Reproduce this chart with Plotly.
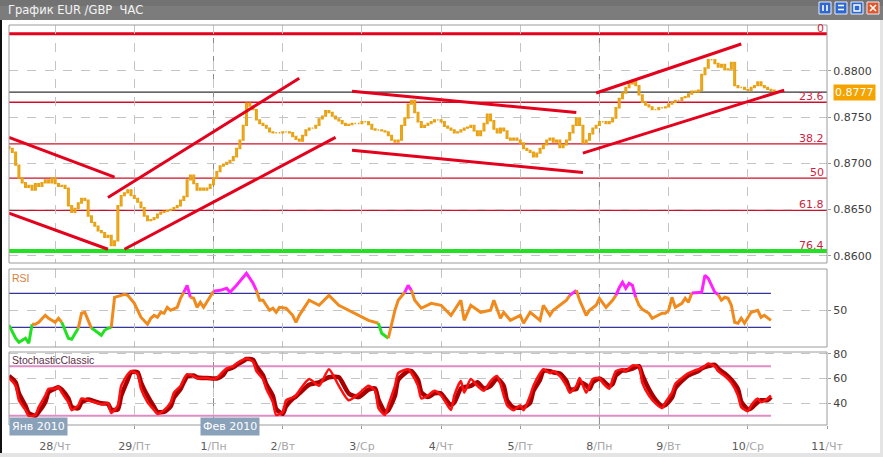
import plotly.graph_objects as go

# ---------------- data ----------------
day_ticks = [14, 38, 62, 83, 107, 131, 155, 179, 200, 224, 248]
day_nums = ["28", "29", "1", "2", "3", "4", "5", "8", "9", "10", "11"]
day_names = ["Чт", "Пт", "Пн", "Вт", "Ср", "Чт", "Пт", "Пн", "Вт", "Ср", "Чт"]
week_start_bars = [62, 179]
month_labels = ["Янв 2010", "Фев 2010"]
month_start_bars = [0, 58]

first_open = 0.8718
close = [
    0.8716, 0.8712, 0.8698, 0.8684, 0.8679, 0.8674, 0.8676, 0.8671, 0.8678, 0.8675,
    0.8679, 0.8682, 0.8679, 0.8684, 0.8678, 0.8675, 0.8676, 0.8673, 0.8654, 0.8647,
    0.8651, 0.8657, 0.8662, 0.8660, 0.8643, 0.8636, 0.8632, 0.8627, 0.8625, 0.8620,
    0.8622, 0.8611, 0.8616, 0.8654, 0.8665, 0.8668, 0.8671, 0.8665, 0.8662, 0.8658,
    0.8652, 0.8643, 0.8638, 0.8639, 0.8641, 0.8645, 0.8647, 0.8648, 0.8649, 0.8650,
    0.8652, 0.8654, 0.8660, 0.8664, 0.8682, 0.8687, 0.8678, 0.8671, 0.8673, 0.8671,
    0.8673, 0.8677, 0.8684, 0.8691, 0.8697, 0.8699, 0.8701, 0.8703, 0.8707, 0.8716,
    0.8725, 0.8741, 0.8765, 0.8762, 0.8758, 0.8747, 0.8743, 0.8741, 0.8738, 0.8734,
    0.8733, 0.8733, 0.8733, 0.8734, 0.8734, 0.8733, 0.8729, 0.8726, 0.8724, 0.8730,
    0.8736, 0.8738, 0.8738, 0.8741, 0.8748, 0.8751, 0.8757, 0.8755, 0.8751, 0.8748,
    0.8746, 0.8743, 0.8741, 0.8742, 0.8743, 0.8743, 0.8743, 0.8745, 0.8745, 0.8742,
    0.8737, 0.8736, 0.8736, 0.8735, 0.8734, 0.8730, 0.8725, 0.8723, 0.8725, 0.8741,
    0.8749, 0.8764, 0.8768, 0.8755, 0.8745, 0.8739, 0.8741, 0.8743, 0.8745, 0.8747,
    0.8747, 0.8745, 0.8740, 0.8738, 0.8736, 0.8733, 0.8734, 0.8736, 0.8738, 0.8739,
    0.8741, 0.8735, 0.8730, 0.8735, 0.8743, 0.8753, 0.8746, 0.8737, 0.8733, 0.8738,
    0.8735, 0.8727, 0.8725, 0.8727, 0.8725, 0.8722, 0.8716, 0.8714, 0.8712, 0.8707,
    0.8711, 0.8716, 0.8720, 0.8725, 0.8727, 0.8723, 0.8725, 0.8717, 0.8720, 0.8725,
    0.8733, 0.8741, 0.8749, 0.8741, 0.8722, 0.8725, 0.8732, 0.8738, 0.8741, 0.8745,
    0.8745, 0.8743, 0.8745, 0.8749, 0.8760, 0.8770, 0.8776, 0.8782, 0.8786, 0.8790,
    0.8784, 0.8774, 0.8766, 0.8763, 0.8761, 0.8758, 0.8758, 0.8760, 0.8760, 0.8761,
    0.8764, 0.8766, 0.8768, 0.8768, 0.8771, 0.8772, 0.8775, 0.8778, 0.8777, 0.8779,
    0.8796, 0.8803, 0.8812, 0.8812, 0.8808, 0.8804, 0.8807, 0.8801, 0.8802, 0.8809,
    0.8784, 0.8782, 0.8782, 0.8780, 0.8779, 0.8782, 0.8784, 0.8788, 0.8784, 0.8782,
    0.8780, 0.8779, 0.8777,
]
price_ticks = [0.8600, 0.8650, 0.8700, 0.8750, 0.8800]
last_price = 0.8777

fib_labels = ["0", "23.6", "38.2", "50", "61.8", "76.4"]
fib_prices = [0.8840, 0.8766, 0.8721, 0.8684, 0.8649, 0.8605]

trend_x0 = [0, 0, 30, 35, 104, 104, 178, 174]
trend_y0 = [0.8728, 0.8646, 0.8663, 0.8607, 0.8778, 0.8714, 0.8776, 0.8711]
trend_x1 = [32, 30, 88, 99, 172, 174, 222, 235]
trend_y1 = [0.8685, 0.8607, 0.8792, 0.8728, 0.8755, 0.8690, 0.8829, 0.8779]

rsi_bar = [
    0, 2, 3, 4, 5, 6, 7, 8, 9, 11,
    12, 14, 15, 16, 17, 18, 19, 21, 22, 23,
    24, 25, 26, 28, 29, 30, 31, 32, 34, 35,
    36, 38, 40, 42, 43, 44, 45, 46, 47, 48,
    49, 51, 52, 53, 54, 55, 56, 57, 58, 59,
    60, 62, 64, 66, 67, 69, 72, 74, 75, 76,
    77, 79, 80, 81, 82, 84, 86, 87, 88, 91,
    94, 97, 100, 103, 106, 109, 112, 113, 115, 117,
    118, 120, 121, 122, 123, 125, 128, 131, 134, 137,
    138, 140, 143, 146, 147, 149, 150, 152, 155, 156,
    158, 161, 162, 164, 165, 167, 169, 170, 172, 173,
    175, 176, 178, 179, 181, 183, 184, 185, 186, 187,
    188, 189, 190, 191, 192, 194, 195, 197, 198, 199,
    200, 201, 202, 204, 205, 206, 207, 208, 210, 211,
    212, 214, 215, 216, 217, 218, 219, 220, 221, 222,
    223, 224, 225, 227, 228, 229, 230, 231,
]
rsi_val = [
    32.4, 17.1, 12.4, 14.7, 17.1, 11.2, 33.5, 33.5, 35.9, 44.1,
    40.6, 35.9, 40.6, 35.9, 26.5, 17.1, 15.9, 28.8, 46.5, 47.6,
    38.2, 28.8, 26.5, 20.6, 26.5, 28.8, 30.0, 65.3, 67.6, 68.8,
    67.6, 58.2, 41.8, 33.5, 40.6, 44.1, 41.8, 47.6, 46.5, 53.5,
    50.0, 53.5, 64.1, 71.2, 79.4, 65.3, 64.1, 53.5, 59.4, 53.5,
    59.4, 72.4, 73.5, 75.9, 71.2, 79.4, 93.5, 81.8, 73.5, 61.8,
    61.8, 50.0, 52.4, 47.6, 53.5, 52.4, 44.1, 35.9, 44.1, 61.8,
    55.9, 67.6, 55.9, 50.0, 44.1, 38.2, 34.7, 22.9, 17.1, 50.0,
    61.8, 71.2, 79.4, 73.5, 61.8, 52.4, 58.2, 55.9, 44.1, 61.8,
    38.2, 55.9, 47.6, 50.0, 61.8, 40.6, 47.6, 38.2, 44.1, 34.7,
    47.6, 38.2, 55.9, 44.1, 50.0, 55.9, 61.8, 67.6, 73.5, 61.8,
    44.1, 50.0, 55.9, 64.1, 53.5, 61.8, 67.6, 76.5, 82.9, 75.9,
    81.8, 79.4, 65.3, 55.9, 51.2, 46.5, 40.6, 44.1, 46.5, 46.5,
    50.0, 65.3, 53.5, 58.2, 64.1, 59.4, 70.5, 70.5, 71.2, 91.2,
    87.6, 71.2, 68.5, 61.8, 65.3, 64.1, 55.9, 35.9, 34.7, 40.6,
    34.7, 41.8, 47.6, 50.0, 41.8, 44.1, 40.6, 38.2,
]
rsi_levels = [70, 30]
rsi_low_zone = 33
rsi_high_zone = 69

stoch_bar = [
    0, 2, 3, 5, 6, 8, 9, 11, 12, 14,
    15, 16, 18, 19, 21, 22, 24, 26, 28, 30,
    31, 33, 34, 36, 37, 39, 40, 42, 44, 45,
    47, 49, 50, 52, 53, 54, 56, 57, 59, 60,
    62, 63, 65, 66, 68, 69, 71, 72, 74, 75,
    77, 78, 80, 81, 83, 84, 86, 87, 88, 91,
    94, 97, 100, 103, 106, 109, 111, 112, 114, 115,
    117, 118, 121, 122, 124, 125, 127, 129, 131, 132,
    134, 135, 137, 138, 140, 142, 144, 146, 148, 150,
    151, 153, 155, 156, 158, 159, 161, 162, 164, 165,
    167, 169, 170, 172, 173, 175, 176, 177, 179, 180,
    182, 183, 184, 186, 187, 189, 191, 192, 194, 196,
    198, 199, 201, 202, 204, 206, 209, 210, 212, 214,
    215, 217, 219, 221, 222, 224, 225, 227, 228, 230,
    231,
]
stoch_k = [
    60.4, 54.1, 42.4, 34.5, 29.8, 30.6, 36.9, 46.3, 51.8, 51.8,
    53.3, 48.6, 40.8, 34.5, 38.4, 43.9, 42.4, 40.8, 39.2, 40.0,
    32.2, 38.4, 54.1, 63.5, 65.9, 63.5, 51.8, 40.8, 34.5, 31.4,
    34.5, 40.8, 48.6, 54.1, 59.6, 63.5, 62.0, 60.4, 60.4, 60.4,
    59.6, 60.4, 65.9, 68.2, 69.8, 72.2, 75.3, 76.1, 73.7, 65.9,
    59.6, 51.8, 40.8, 30.6, 32.9, 42.4, 44.7, 46.3, 50.2, 59.6,
    54.1, 67.5, 54.1, 42.4, 47.8, 54.1, 50.2, 36.1, 30.6, 38.4,
    54.1, 64.3, 67.5, 64.3, 54.1, 43.9, 46.3, 50.2, 46.3, 42.4,
    34.5, 46.3, 58.0, 48.6, 59.6, 54.1, 50.2, 58.0, 62.0, 46.3,
    38.4, 34.5, 38.4, 34.5, 46.3, 54.1, 64.3, 67.5, 64.3, 65.9,
    62.0, 54.1, 48.6, 54.1, 60.4, 48.6, 54.1, 59.6, 60.4, 56.5,
    51.8, 59.6, 65.9, 67.5, 65.9, 70.6, 69.8, 56.5, 46.3, 40.0,
    36.1, 40.8, 48.6, 55.7, 60.4, 64.3, 67.5, 68.2, 72.2, 69.8,
    65.9, 62.0, 56.5, 46.3, 36.9, 33.7, 38.4, 43.9, 40.8, 43.9,
    46.3,
]
stoch_d = [
    62.0, 57.0, 48.0, 38.0, 32.0, 30.0, 33.0, 41.0, 49.0, 52.0,
    53.0, 51.0, 44.0, 37.0, 36.0, 41.0, 43.0, 41.5, 40.0, 39.5,
    35.0, 35.0, 46.0, 59.0, 65.0, 65.0, 57.0, 46.0, 37.0, 33.0,
    33.0, 37.5, 44.5, 51.5, 57.0, 61.5, 62.5, 61.0, 60.4, 60.4,
    60.0, 60.0, 63.0, 67.0, 69.0, 71.0, 74.0, 75.8, 75.0, 70.0,
    62.5, 55.5, 46.0, 35.5, 31.5, 37.5, 43.5, 45.5, 48.0, 55.0,
    57.0, 61.0, 61.0, 48.0, 45.0, 51.0, 52.0, 43.0, 33.0, 34.5,
    46.0, 59.0, 66.0, 66.0, 59.0, 49.0, 45.0, 48.0, 48.0, 44.5,
    38.5, 40.5, 52.0, 53.0, 54.0, 57.0, 52.0, 54.0, 60.0, 54.0,
    42.5, 36.5, 36.5, 36.5, 40.5, 50.0, 59.0, 66.0, 66.0, 65.0,
    64.0, 58.0, 51.5, 51.5, 57.0, 54.5, 51.5, 57.0, 60.0, 58.5,
    54.0, 55.5, 62.5, 66.5, 66.5, 68.0, 70.0, 63.0, 51.5, 43.0,
    38.0, 38.5, 44.5, 52.0, 58.0, 62.5, 66.0, 68.0, 70.0, 71.0,
    68.0, 64.0, 59.0, 51.5, 41.5, 35.3, 36.0, 41.0, 42.5, 42.5,
    45.0,
]
stoch_levels = [70, 30]
stoch_ticks = [40, 60, 80]

# ---------------- layout helpers ----------------
W, H = 883, 457


def px_x(p):
    return p / W


def px_y(p):
    return 1 - p / H


FONT = "DejaVu Sans"
NARROW = "Liberation Sans"
ORANGE = "#f08a1c"
GREEN = "#22e022"
MAGENTA = "#ff22ff"
FIBRED = "#d0102a"
GRID = "#c4c4c4"
BORDER = "#9c9c9c"

# plot-area pixel geometry
X_L, X_R = 9, 827
MAIN_T, MAIN_B = 25, 263
RSI_T, RSI_B = 269, 347
STO_T, STO_B = 352, 425
x_range = [0, 248]
main_range = [0.85921, 0.88496]
rsi_range = [6.8, 98.6]
sto_range = [22.5, 81.4]

fig = go.Figure()

# candles
bars = list(range(len(close)))
opens = [first_open] + close[:-1]
highs = [max(o, c) for o, c in zip(opens, close)]
lows = [min(o, c) for o, c in zip(opens, close)]
fig.add_trace(go.Candlestick(
    x=bars, open=opens, high=highs, low=lows, close=close,
    increasing=dict(line=dict(color="#e8a214", width=1.4), fillcolor="#f8c24a"),
    decreasing=dict(line=dict(color="#e8a214", width=1.4), fillcolor="#f8c24a"),
    whiskerwidth=0, xaxis="x", yaxis="y", hoverinfo="skip", showlegend=False,
))

# trend lines
for x0, y0, x1, y1 in zip(trend_x0, trend_y0, trend_x1, trend_y1):
    fig.add_trace(go.Scatter(x=[x0, x1], y=[y0, y1], mode="lines",
                             line=dict(color="#e4001c", width=3),
                             xaxis="x", yaxis="y", hoverinfo="skip", showlegend=False))


# RSI coloured segments
def zone_color(v):
    if v < rsi_low_zone:
        return GREEN
    if v > rsi_high_zone:
        return MAGENTA
    return ORANGE


segs = []
cur = None
for i in range(len(rsi_bar) - 1):
    c = zone_color((rsi_val[i] + rsi_val[i + 1]) / 2)
    if c != cur:
        segs.append([c, [rsi_bar[i]], [rsi_val[i]]])
        cur = c
    segs[-1][1].append(rsi_bar[i + 1])
    segs[-1][2].append(rsi_val[i + 1])
for c, xs, ys in segs:
    fig.add_trace(go.Scatter(x=xs, y=ys, mode="lines",
                             line=dict(color=c, width=3),
                             xaxis="x", yaxis="y2", hoverinfo="skip", showlegend=False))

# Stochastic
fig.add_trace(go.Scatter(x=stoch_bar, y=stoch_d, mode="lines",
                         line=dict(color="#a80000", width=4.5, shape="spline", smoothing=0.6),
                         xaxis="x", yaxis="y3", hoverinfo="skip", showlegend=False))
fig.add_trace(go.Scatter(x=stoch_bar, y=stoch_k, mode="lines",
                         line=dict(color="#ff1010", width=2.5, shape="spline", smoothing=0.6),
                         xaxis="x", yaxis="y3", hoverinfo="skip", showlegend=False))

shapes = []
annotations = []

# fib levels
for i, (lab, p) in enumerate(zip(fib_labels, fib_prices)):
    if i == 0:
        col, wd = "#e4001c", 3
    elif i == len(fib_labels) - 1:
        col, wd = "#22e022", 4
    else:
        col, wd = FIBRED, 1.3
    shapes.append(dict(type="line", xref="x", yref="y", x0=x_range[0], x1=x_range[1], y0=p, y1=p,
                       line=dict(color=col, width=wd), layer="below"))
    annotations.append(dict(xref="x", yref="y", x=x_range[1], y=p, xanchor="right", yanchor="bottom",
                            xshift=-1, yshift=-3, text=lab, showarrow=False,
                            font=dict(family=FONT, size=11, color="#cc1f3f")))

# current price line + label
shapes.append(dict(type="line", xref="x", yref="y", x0=x_range[0], x1=x_range[1],
                   y0=last_price, y1=last_price,
                   line=dict(color="#000000", width=1), layer="below"))
annotations.append(dict(xref="paper", yref="y", x=px_x(833), y=last_price, xanchor="left",
                        yanchor="middle", text=f"{last_price:.4f}", showarrow=False,
                        bgcolor="#f4a300", borderpad=1,
                        font=dict(family=FONT, size=11, color="white")))

# week start darker dashed lines
for yr, rng in (("y", main_range), ("y2", rsi_range), ("y3", sto_range)):
    for b in week_start_bars:
        shapes.append(dict(type="line", xref="x", yref=yr, x0=b, x1=b, y0=rng[0], y1=rng[1],
                           line=dict(color="#8a8a8a", width=1, dash="dash"), layer="below"))

# RSI / stochastic level lines
for lv in rsi_levels:
    shapes.append(dict(type="line", xref="x", yref="y2", x0=rsi_bar[0], x1=rsi_bar[-1], y0=lv, y1=lv,
                       line=dict(color="#000080", width=1), layer="below"))
for lv in stoch_levels:
    shapes.append(dict(type="line", xref="x", yref="y3", x0=stoch_bar[0], x1=stoch_bar[-1], y0=lv, y1=lv,
                       line=dict(color="#e08cc4", width=2), layer="below"))

# panel borders (paper coords)
for top, bot in ((MAIN_T, MAIN_B), (RSI_T, RSI_B), (STO_T, STO_B)):
    shapes.append(dict(type="rect", xref="paper", yref="paper", x0=px_x(X_L), x1=px_x(X_R),
                       y0=px_y(bot), y1=px_y(top),
                       line=dict(color=BORDER, width=1), fillcolor="rgba(0,0,0,0)", layer="above"))

# panel titles
annotations.append(dict(xref="paper", yref="paper", x=px_x(X_L + 1), y=px_y(RSI_T + 1),
                        xanchor="left", yanchor="top", text="RSI", showarrow=False,
                        font=dict(family=NARROW, size=10.5, color="#d8803a")))
annotations.append(dict(xref="paper", yref="paper", x=px_x(X_L + 1), y=px_y(STO_T),
                        xanchor="left", yanchor="top", text="StochasticClassic", showarrow=False,
                        font=dict(family=NARROW, size=10.5, color="#5a3048")))

# month labels
for lab, b in zip(month_labels, month_start_bars):
    annotations.append(dict(xref="x", yref="paper", x=b, y=px_y(426), xanchor="left", yanchor="middle",
                            text=lab, showarrow=False, bgcolor="#8aa1ba", borderpad=2,
                            font=dict(family=FONT, size=11, color="white")))

# window chrome: title bar, buttons, frame
shapes.append(dict(type="rect", xref="paper", yref="paper", x0=0, x1=1, y0=px_y(20), y1=1,
                   fillcolor="#7c7c7c", line=dict(width=0), layer="below"))
shapes.append(dict(type="rect", xref="paper", yref="paper", x0=0, x1=1, y0=px_y(6), y1=1,
                   fillcolor="#727272", line=dict(width=0), layer="below"))
annotations.append(dict(xref="paper", yref="paper", x=px_x(6), y=px_y(10), xanchor="left", yanchor="middle",
                        text="График EUR /GBP  ЧАС", showarrow=False,
                        font=dict(family=FONT, size=11.5, color="#f4f4f4")))
btn_x = [819, 835, 851, 867]
for i, bx in enumerate(btn_x):
    fill = "#2d67d2" if i < 3 else "#e0552a"
    shapes.append(dict(type="rect", xref="paper", yref="paper", x0=px_x(bx), x1=px_x(bx + 12),
                       y0=px_y(14), y1=px_y(2), fillcolor=fill, line=dict(color="#e8eef8", width=1)))
    wl = dict(color="white", width=1.6)
    if i == 0:
        for gx in (bx + 4, bx + 8):
            shapes.append(dict(type="line", xref="paper", yref="paper", x0=px_x(gx), x1=px_x(gx),
                               y0=px_y(11), y1=px_y(5), line=wl))
    elif i == 1:
        for gy in (5.5, 9.5):
            shapes.append(dict(type="line", xref="paper", yref="paper", x0=px_x(bx + 3), x1=px_x(bx + 9),
                               y0=px_y(gy), y1=px_y(gy), line=wl))
    elif i == 2:
        shapes.append(dict(type="rect", xref="paper", yref="paper", x0=px_x(bx + 3), x1=px_x(bx + 9),
                           y0=px_y(11), y1=px_y(5), line=dict(color="white", width=1.4)))
    else:
        shapes.append(dict(type="line", xref="paper", yref="paper", x0=px_x(bx + 3), x1=px_x(bx + 9),
                           y0=px_y(5), y1=px_y(11), line=wl))
        shapes.append(dict(type="line", xref="paper", yref="paper", x0=px_x(bx + 3), x1=px_x(bx + 9),
                           y0=px_y(11), y1=px_y(5), line=wl))

shapes.append(dict(type="rect", xref="paper", yref="paper", x0=0, x1=px_x(2), y0=px_y(453), y1=px_y(20),
                   fillcolor="#111111", line=dict(width=0)))
shapes.append(dict(type="rect", xref="paper", yref="paper", x0=0, x1=1, y0=0, y1=px_y(453),
                   fillcolor="#e4e4e4", line=dict(width=0)))
shapes.append(dict(type="rect", xref="paper", yref="paper", x0=px_x(880), x1=1, y0=0, y1=px_y(20),
                   fillcolor="#e4e4e4", line=dict(width=0)))

ticktext = [f"<span style='color:#5a5a5a'>{n}</span><span style='color:#a6a6a6'>/{d}</span>"
            for n, d in zip(day_nums, day_names)]

yaxis_common = dict(side="right", anchor="x", showline=False, zeroline=False, ticks="outside",
                    ticklen=3, tickcolor=BORDER, showgrid=True, gridcolor=GRID, griddash="dash",
                    tickfont=dict(family=FONT, size=11, color="#3e3e3e"), automargin=False,
                    fixedrange=True)

fig.update_layout(
    width=W, height=H, autosize=False,
    margin=dict(l=0, r=0, t=0, b=0),
    paper_bgcolor="white", plot_bgcolor="white",
    font=dict(family=FONT, size=11, color="#3e3e3e"),
    showlegend=False,
    xaxis=dict(domain=[px_x(X_L), px_x(X_R)], range=x_range, anchor="y3",
               tickmode="array", tickvals=day_ticks, ticktext=ticktext,
               ticks="outside", ticklen=3, tickcolor=BORDER, ticklabelstandoff=8,
               showgrid=True, gridcolor=GRID, griddash="dash", zeroline=False, showline=False,
               tickfont=dict(family=FONT, size=11), rangeslider=dict(visible=False),
               automargin=False, fixedrange=True),
    yaxis=dict(domain=[px_y(MAIN_B), px_y(MAIN_T)], range=main_range,
               tickmode="array", tickvals=price_ticks, tickformat=".4f", **yaxis_common),
    yaxis2=dict(domain=[px_y(RSI_B), px_y(RSI_T)], range=rsi_range,
                tickmode="array", tickvals=[50], **yaxis_common),
    yaxis3=dict(domain=[px_y(STO_B), px_y(STO_T)], range=sto_range,
                tickmode="array", tickvals=stoch_ticks, **yaxis_common),
    shapes=shapes,
    annotations=annotations,
)

fig.write_html("out.html", config={"displayModeBar": False},
               post_script="document.body.style.margin='0';document.body.style.overflow='hidden';")
